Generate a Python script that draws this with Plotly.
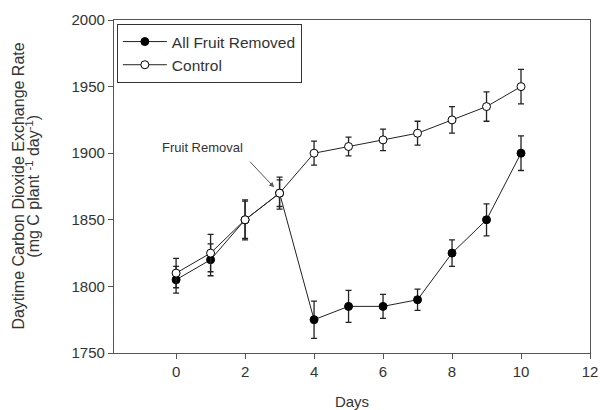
import plotly.graph_objects as go

days = [0, 1, 2, 3, 4, 5, 6, 7, 8, 9, 10]
removed = [1805, 1820, 1850, 1870, 1775, 1785, 1785, 1790, 1825, 1850, 1900]
removed_err = [10, 12, 15, 10, 14, 12, 9, 8, 10, 12, 13]
control = [1810, 1825, 1850, 1870, 1900, 1905, 1910, 1915, 1925, 1935, 1950]
control_err = [11, 14, 14, 12, 9, 7, 8, 9, 10, 11, 13]

x_ticks = [0, 2, 4, 6, 8, 10, 12]
y_ticks = [1750, 1800, 1850, 1900, 1950, 2000]

FONT = "Liberation Sans, Arial, sans-serif"
TXT = "#333333"
AX = "#555555"

fig = go.Figure()
fig.add_trace(go.Scatter(
    x=days, y=removed, name="All Fruit Removed", mode="lines+markers",
    line=dict(color="#222222", width=1),
    marker=dict(symbol="circle", size=8, color="black", line=dict(color="black", width=1)),
    error_y=dict(type="data", array=removed_err, visible=True, color="#222222", thickness=1.3, width=3),
))
fig.add_trace(go.Scatter(
    x=days, y=control, name="Control", mode="lines+markers",
    line=dict(color="#222222", width=1),
    marker=dict(symbol="circle", size=8, color="white", line=dict(color="black", width=1)),
    error_y=dict(type="data", array=control_err, visible=True, color="#222222", thickness=1.3, width=3),
))

fig.update_layout(
    width=600, height=410,
    margin=dict(l=114, r=10, t=20, b=57, autoexpand=False),
    paper_bgcolor="white", plot_bgcolor="white",
    font=dict(family=FONT, size=15, color=TXT),
    showlegend=True,
    legend=dict(x=0.006, y=0.988, xanchor="left", yanchor="top",
                bordercolor="#333333", borderwidth=1, bgcolor="white",
                itemwidth=44,
                font=dict(size=15.5, color=TXT), tracegroupgap=0),
    xaxis=dict(range=[-1.8, 12], tickvals=x_ticks, showgrid=False, zeroline=False,
               showline=True, linecolor=AX, linewidth=1.2, mirror=True, automargin=False,
               ticks="outside", ticklen=5, tickcolor=AX,
               title=dict(text="Days", font=dict(size=15, color=TXT), standoff=18)),
    yaxis=dict(range=[1750, 2000], tickvals=y_ticks, showgrid=False, zeroline=False,
               showline=True, linecolor=AX, linewidth=1.2, mirror=True, automargin=False,
               ticks="outside", ticklen=5, tickcolor=AX),
    annotations=[
        dict(x=3, y=1870, xref="x", yref="y", text="", showarrow=True,
             ax=-31, ay=-33, axref="pixel", ayref="pixel",
             arrowhead=2, arrowsize=1, arrowwidth=1, arrowcolor="#555555", standoff=8),
        dict(x=0.76, y=1904, xref="x", yref="y", text="Fruit Removal", showarrow=False,
             font=dict(size=13, color=TXT)),
        dict(x=-0.2015, y=0.5, xref="paper", yref="paper", textangle=-90,
             text="Daytime Carbon Dioxide Exchange Rate", showarrow=False,
             xanchor="center", yanchor="middle", font=dict(size=16, color=TXT)),
        dict(x=-0.172, y=0.5, xref="paper", yref="paper", textangle=-90,
             text="(mg C plant <sup>-1</sup> day<sup>-1</sup>)", showarrow=False,
             xanchor="center", yanchor="middle", font=dict(size=16, color=TXT)),
    ],
)

fig.write_html(
    "out.html",
    config={"displayModeBar": False},
    post_script="document.body.style.margin='0';document.body.style.overflow='hidden';",
)
